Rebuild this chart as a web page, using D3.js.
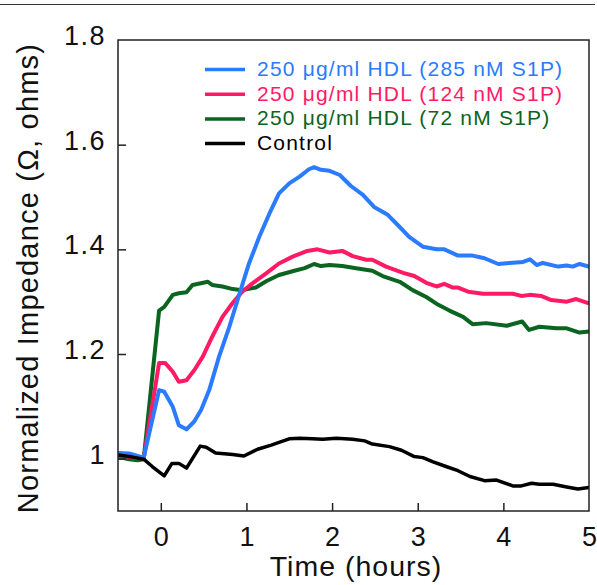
<!DOCTYPE html>
<html>
<head>
<meta charset="utf-8">
<script src="https://cdn.jsdelivr.net/npm/d3@7"></script>
<style>
  body { margin: 0; background: #fff; }
  svg text { font-family: "Liberation Sans", Arial, sans-serif; }
</style>
</head>
<body>
<svg id="chart" width="597" height="585"></svg>
<script>
// time points (hours) and normalized impedance for each series
const blueT = [-0.5, -0.37, -0.2, -0.02, 0.04, 0.14, 0.21, 0.30, 0.39, 0.47, 0.565, 0.68, 0.80, 0.92, 1.03, 1.15, 1.27, 1.38, 1.50, 1.62, 1.73, 1.79, 1.87, 1.97, 2.09, 2.22, 2.36, 2.49, 2.65, 2.77, 2.90, 3.06, 3.22, 3.31, 3.47, 3.64, 3.78, 3.94, 4.07, 4.23, 4.31, 4.39, 4.46, 4.64, 4.74, 4.81, 4.89, 5.0];
const blueV = [1.011, 1.010, 1.002, 1.131, 1.128, 1.099, 1.064, 1.056, 1.071, 1.093, 1.131, 1.195, 1.252, 1.316, 1.373, 1.424, 1.469, 1.507, 1.526, 1.539, 1.553, 1.557, 1.552, 1.550, 1.542, 1.521, 1.504, 1.481, 1.466, 1.446, 1.424, 1.405, 1.400, 1.400, 1.388, 1.388, 1.383, 1.372, 1.374, 1.376, 1.381, 1.370, 1.374, 1.367, 1.369, 1.367, 1.372, 1.367];

const pinkT = [-0.5, -0.2, -0.02, 0.05, 0.14, 0.21, 0.30, 0.39, 0.49, 0.60, 0.72, 0.84, 0.95, 1.07, 1.23, 1.38, 1.54, 1.71, 1.83, 1.97, 2.12, 2.24, 2.40, 2.47, 2.63, 2.83, 2.96, 3.10, 3.22, 3.31, 3.41, 3.47, 3.59, 3.76, 3.92, 4.11, 4.21, 4.31, 4.44, 4.56, 4.74, 4.85, 5.0];
const pinkV = [1.006, 1.000, 1.183, 1.183, 1.166, 1.147, 1.150, 1.169, 1.195, 1.233, 1.271, 1.298, 1.319, 1.335, 1.354, 1.373, 1.386, 1.397, 1.400, 1.394, 1.397, 1.387, 1.380, 1.380, 1.367, 1.355, 1.349, 1.336, 1.329, 1.334, 1.327, 1.327, 1.319, 1.315, 1.315, 1.315, 1.311, 1.313, 1.311, 1.303, 1.300, 1.305, 1.297];

const greenT = [-0.5, -0.37, -0.27, -0.2, -0.02, 0.04, 0.14, 0.21, 0.30, 0.37, 0.55, 0.60, 0.72, 0.84, 0.95, 1.11, 1.23, 1.38, 1.56, 1.68, 1.79, 1.87, 1.97, 2.12, 2.28, 2.47, 2.59, 2.79, 2.94, 3.10, 3.24, 3.37, 3.53, 3.64, 3.80, 4.04, 4.22, 4.30, 4.42, 4.62, 4.74, 4.89, 5.0];
const greenV = [1.004, 0.999, 0.997, 0.999, 1.283, 1.290, 1.313, 1.316, 1.318, 1.332, 1.338, 1.332, 1.329, 1.324, 1.322, 1.327, 1.339, 1.351, 1.359, 1.364, 1.372, 1.368, 1.370, 1.368, 1.364, 1.359, 1.349, 1.338, 1.322, 1.309, 1.294, 1.283, 1.271, 1.257, 1.259, 1.254, 1.262, 1.246, 1.252, 1.249, 1.249, 1.241, 1.243];

const blackT = [-0.5, -0.33, -0.2, -0.10, 0.04, 0.13, 0.21, 0.30, 0.46, 0.53, 0.64, 0.84, 0.97, 1.13, 1.29, 1.38, 1.50, 1.62, 1.77, 1.89, 2.05, 2.24, 2.38, 2.47, 2.67, 2.81, 2.96, 3.06, 3.18, 3.33, 3.47, 3.61, 3.78, 3.92, 4.11, 4.21, 4.33, 4.42, 4.58, 4.74, 4.87, 5.0];
const blackV = [1.007, 1.003, 0.999, 0.985, 0.967, 0.991, 0.991, 0.982, 1.024, 1.022, 1.011, 1.008, 1.005, 1.018, 1.026, 1.031, 1.038, 1.039, 1.038, 1.037, 1.039, 1.037, 1.034, 1.028, 1.023, 1.016, 1.004, 1.002, 0.994, 0.985, 0.977, 0.966, 0.958, 0.959, 0.948, 0.948, 0.953, 0.951, 0.951, 0.946, 0.942, 0.945];

const legendLabels = ["250 \u03bcg/ml HDL (285 nM S1P)", "250 \u03bcg/ml HDL (124 nM S1P)", "250 \u03bcg/ml HDL (72 nM S1P)", "Control"];
const xTicks = [0, 1, 2, 3, 4, 5];
const yTicks = [1, 1.2, 1.4, 1.6, 1.8];

const colors = ['#2b7bff', '#ff1a66', '#0b6420', '#000000'];

const series = [
    { name: legendLabels[0], t: blueT, v: blueV, color: colors[0], w: 4 },
    { name: legendLabels[1], t: pinkT, v: pinkV, color: colors[1], w: 4 },
    { name: legendLabels[2], t: greenT, v: greenV, color: colors[2], w: 4 },
    { name: legendLabels[3], t: blackT, v: blackV, color: colors[3], w: 3.5 }
];

const svg = d3.select('#chart');
const plotL = 118, plotR = 589, plotT = 40, plotB = 511;

const x = d3.scaleLinear().domain([-0.5, 5]).range([plotL, plotR]);
const y = d3.scaleLinear().domain([0.9, 1.8]).range([plotB, plotT]);

// stray rule along the top edge of the picture
svg.append('line')
    .attr('x1', 0).attr('x2', 595)
    .attr('y1', 4.5).attr('y2', 4.5)
    .attr('stroke', '#333').attr('stroke-width', 1.2);

svg.append('clipPath').attr('id', 'plot')
    .append('rect')
    .attr('x', plotL).attr('y', plotT)
    .attr('width', plotR - plotL).attr('height', plotB - plotT);

const line = d3.line()
    .x(function (d) { return x(d[0]); })
    .y(function (d) { return y(d[1]); });

// draw order: green, pink, blue, control on top
const drawOrder = [2, 1, 0, 3];
svg.append('g').attr('clip-path', 'url(#plot)')
    .selectAll('path')
    .data(drawOrder.map(function (i) { return series[i]; }))
    .join('path')
    .attr('d', function (s) { return line(s.t.map(function (t, i) { return [t, s.v[i]]; })); })
    .attr('fill', 'none')
    .attr('stroke', function (s) { return s.color; })
    .attr('stroke-width', function (s) { return s.w; })
    .attr('stroke-linejoin', 'round')
    .attr('stroke-linecap', 'round');

// axes with inward ticks
const xAxis = svg.append('g')
    .attr('transform', 'translate(0,' + plotB + ')')
    .call(d3.axisBottom(x).tickValues(xTicks).tickSize(-8).tickPadding(16).tickFormat(d3.format('d')));
xAxis.select('.domain').remove();
xAxis.selectAll('.tick line').attr('stroke', '#222').attr('stroke-width', 1.5)
    .filter(function (d) { return d === 5; }).remove();
xAxis.selectAll('.tick text').attr('font-size', 27).attr('fill', '#111')
    .attr('dy', '0.71em').attr('y', 16);

const yAxis = svg.append('g')
    .attr('transform', 'translate(' + plotL + ',0)')
    .call(d3.axisLeft(y).tickValues(yTicks).tickSize(-8).tickPadding(12).tickFormat(function (d) { return d === 1 ? '1' : d3.format('.1f')(d); }));
yAxis.select('.domain').remove();
yAxis.selectAll('.tick line').attr('stroke', '#222').attr('stroke-width', 1.5)
    .filter(function (d) { return d === 1.8; }).remove();
yAxis.selectAll('.tick text').attr('font-size', 27).attr('fill', '#111')
    .attr('letter-spacing', 1.5)
    .attr('dy', '0.32em').attr('y', -4);

// frame
svg.append('rect')
    .attr('x', plotL).attr('y', plotT)
    .attr('width', plotR - plotL).attr('height', plotB - plotT)
    .attr('fill', 'none').attr('stroke', '#222').attr('stroke-width', 1.5);

// axis titles
svg.append('text')
    .attr('x', 356).attr('y', 576)
    .attr('text-anchor', 'middle')
    .attr('font-size', 28.5).attr('letter-spacing', 1).attr('fill', '#111')
    .text('Time (hours)');

svg.append('text')
    .attr('transform', 'translate(38,278) rotate(-90)')
    .attr('text-anchor', 'middle')
    .attr('font-size', 29).attr('letter-spacing', 1.2).attr('fill', '#111')
    .text('Normalized Impedance (\u03a9, ohms)');

// legend
const legend = svg.append('g').attr('transform', 'translate(205,76)');
const rows = legend.selectAll('g')
    .data(series)
    .join('g')
    .attr('transform', function (d, i) { return 'translate(0,' + (i * 24.7) + ')'; });
rows.append('line')
    .attr('x1', 0).attr('x2', 40)
    .attr('y1', -6.5).attr('y2', -6.5)
    .attr('stroke', function (d) { return d.color; })
    .attr('stroke-width', 3.5);
rows.append('text')
    .attr('x', 52)
    .attr('font-size', 21)
    .attr('letter-spacing', 1.2)
    .attr('fill', function (d) { return d.color; })
    .text(function (d) { return d.name; });
</script>
</body>
</html>
